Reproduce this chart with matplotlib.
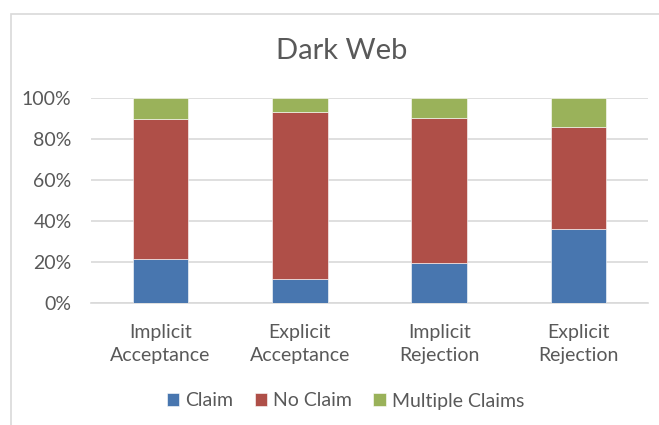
import matplotlib
matplotlib.use("Agg")
import matplotlib.pyplot as plt
from matplotlib.patches import Rectangle
from matplotlib.ticker import PercentFormatter, FixedLocator

categories = ["Implicit\nAcceptance", "Explicit\nAcceptance", "Implicit\nRejection", "Explicit\nRejection"]
claim = [21.2, 11.7, 19.5, 35.8]
no_claim = [68.4, 81.6, 70.6, 49.9]
multiple_claims = [10.4, 6.7, 9.9, 14.3]
series_names = ["Claim", "No Claim", "Multiple Claims"]
yticks = [0, 20, 40, 60, 80, 100]

colors = ["#4876AF", "#AF4F48", "#9AB25A"]
text_color = "#595959"
grid_color = "#D9D9D9"
font = ["Lato", "DejaVu Sans"]

fig = plt.figure(figsize=(6.59, 4.25), dpi=100)
fig.patch.set_facecolor("white")

# chart-area frame
fig.add_artist(Rectangle((11 / 659, -0.1), 1.0, 1 - 14 / 425 + 0.1,
                         transform=fig.transFigure, fill=False,
                         edgecolor=grid_color, linewidth=1.2))

ax = fig.add_axes([91 / 659, 1 - 302.7 / 425, (648 - 91) / 659, (302.7 - 98) / 425])

x = list(range(len(categories)))
bottom = [0.0] * len(categories)
for vals, name, c in zip([claim, no_claim, multiple_claims], series_names, colors):
    ax.bar(x, vals, width=0.4, bottom=bottom, color=c, label=name,
           edgecolor="white", linewidth=0.4, zorder=3)
    bottom = [b + v for b, v in zip(bottom, vals)]

ax.set_xlim(-0.5, len(categories) - 0.5)
ax.set_ylim(0, 100)
ax.yaxis.set_major_locator(FixedLocator(yticks))
ax.yaxis.set_major_formatter(PercentFormatter(decimals=0))
ax.set_xticks(x)
ax.set_xticklabels(categories, linespacing=1.45)

ax.grid(axis="y", color=grid_color, linewidth=1.2, zorder=0)
for side in ["left", "right", "top"]:
    ax.spines[side].set_visible(False)
ax.spines["bottom"].set_color(grid_color)
ax.spines["bottom"].set_linewidth(1.2)
ax.tick_params(axis="both", length=0, labelcolor=text_color, labelsize=14)
ax.tick_params(axis="x", pad=15)
ax.tick_params(axis="y", pad=14)
for lbl in ax.get_xticklabels() + ax.get_yticklabels():
    lbl.set_family(font)

fig.text(341.5 / 659, 1 - 51 / 425, "Dark Web", ha="center", va="center",
         fontsize=21, color=text_color, family=font)

fig.legend(loc="center", bbox_to_anchor=(345.5 / 659, 1 - 401 / 425), ncol=3,
           frameon=False, handlelength=0.65, handleheight=0.65,
           handletextpad=0.3, columnspacing=1.1,
           prop={"family": font, "size": 14}, labelcolor=text_color)

fig.savefig("out.png", dpi=100, facecolor="white")
